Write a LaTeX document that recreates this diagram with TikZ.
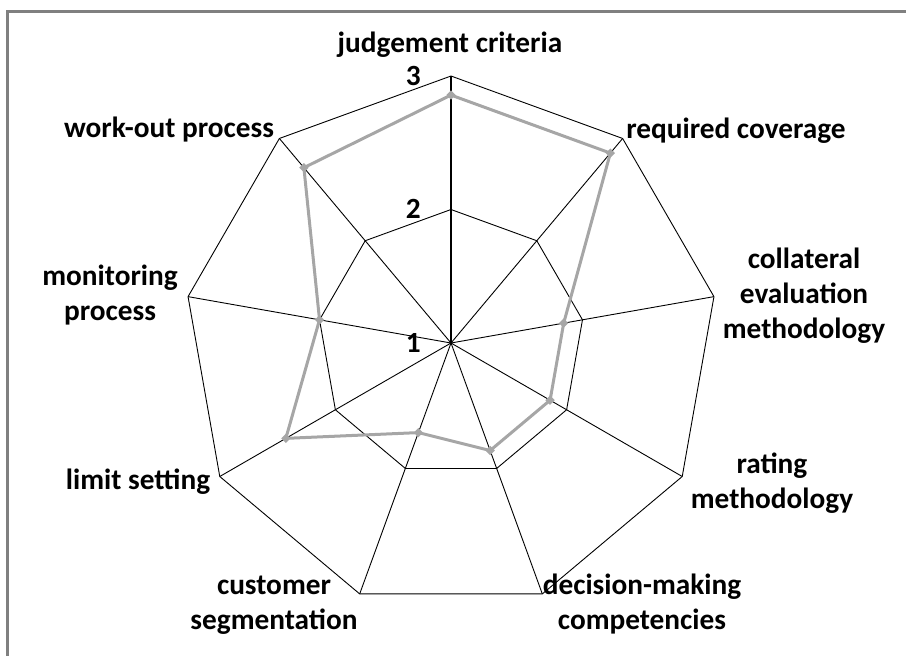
\documentclass[tikz,border=0pt]{standalone}
\usepackage{fontspec}
\setmainfont{Carlito}
\usetikzlibrary{shapes.geometric,calc}

\definecolor{framegray}{RGB}{128,128,128}
\definecolor{seriesgray}{RGB}{166,166,166}

\begin{document}
\begin{tikzpicture}[x=1pt,y=-1pt]
    % `axislabel' is used for the category names round the chart.
    % `tick' is used for the scale numbers on the top axis.
    % `marker' is used for the data points (diamonds).
    \tikzstyle{axislabel} = [font=\fontsize{29.3}{35}\selectfont\bfseries,align=center,inner sep=0pt]
    \tikzstyle{tick} = [font=\fontsize{29.3}{35}\selectfont\bfseries,inner sep=0pt,anchor=east]
    \tikzstyle{grid} = [draw=black,line width=0.9pt,line join=miter]
    \tikzstyle{series} = [draw=seriesgray,line width=3pt,line join=round]
    \tikzstyle{marker} = [diamond,fill=seriesgray,inner sep=0pt,minimum size=9.5pt]
    %
    \useasboundingbox (0,0) rectangle (906,656);
    \draw[framegray,line width=3pt] (7.5,660) -- (7.5,11.5) -- (910,11.5);
    %
    \coordinate (centre) at (451,343);
    \foreach \k in {0,...,8} {
      \coordinate (outer\k) at ($(centre)+(-90+40*\k:267)$);
      \coordinate (mid\k) at ($(centre)+(-90+40*\k:133.5)$);
    }
    % Draw the web.
    \draw[grid] (outer0) -- (outer1) -- (outer2) -- (outer3) -- (outer4)
                -- (outer5) -- (outer6) -- (outer7) -- (outer8) -- cycle;
    \draw[grid] (mid0) -- (mid1) -- (mid2) -- (mid3) -- (mid4)
                -- (mid5) -- (mid6) -- (mid7) -- (mid8) -- cycle;
    \foreach \k in {1,...,8} \draw[grid] (centre) -- (outer\k);
    \draw[grid,line width=1.5pt] (centre) -- (outer0);
    %
    \node[tick] (t3) at (421,76) {3};
    \node[tick] (t2) at (421,209) {2};
    \node[tick] (t1) at (421,343) {1};
    %
    % Data points: value v sits at radius (v-1)*133.5.
    \foreach \k/\v in {0/20,1/20,2/13,3/13,4/13,5/12,6/17,7/14,8/19}
      \coordinate (p\k) at ($(centre)+(-90+40*\k:{(\v/7-1)*133.5})$);
    \draw[series] (p0) -- (p1) -- (p2) -- (p3) -- (p4)
                  -- (p5) -- (p6) -- (p7) -- (p8) -- cycle;
    \foreach \k in {0,...,8} \node[marker] (dot\k) at (p\k) {};
    %
    \node[axislabel] (judge) at (450,45) {judgement criteria};
    \node[axislabel] (cover) at (736,131) {required coverage};
    \node[axislabel] (collat) at (804,296) {collateral\\evaluation\\methodology};
    \node[axislabel] (rating) at (772,483) {rating\\methodology};
    \node[axislabel] (decide) at (642,604) {decision-making\\competencies};
    \node[axislabel] (custom) at (274,605) {customer\\segmentation};
    \node[axislabel] (limit) at (138,482) {limit setting};
    \node[axislabel] (monitor) at (110,295) {monitoring\\process};
    \node[axislabel] (workout) at (169,130) {work-out process};
\end{tikzpicture}
\end{document}
